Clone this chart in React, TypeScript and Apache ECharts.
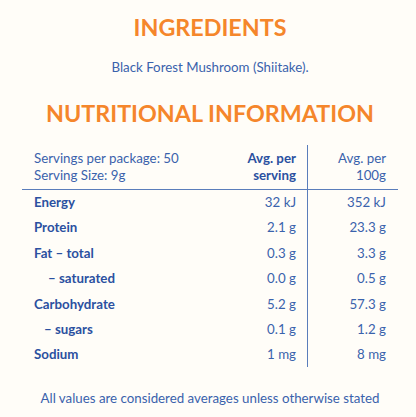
import React, { useEffect, useRef } from "react";
import * as echarts from "echarts";

const titleIngredients = "INGREDIENTS";
const ingredientsText = "Black Forest Mushroom (Shiitake).";
const titleNutrition = "NUTRITIONAL INFORMATION";
const servingInfo = ["Servings per package: 50", "Serving Size: 9g"];
const headerPerServing = ["Avg. per", "serving"];
const headerPer100g = ["Avg. per", "100g"];
const nutrients = ["Energy", "Protein", "Fat – total", "– saturated", "Carbohydrate", "– sugars", "Sodium"];
const indents = [0, 0, 0, 14, 0, 10, 0];
const perServing = ["32 kJ", "2.1 g", "0.3 g", "0.0 g", "5.2 g", "0.1 g", "1 mg"];
const per100g = ["352 kJ", "23.3 g", "3.3 g", "0.5 g", "57.3 g", "1.2 g", "8 mg"];
const footnote = "All values are considered averages unless otherwise stated";

const ORANGE = "#F5862B";
const BLUE = "#3A62AC";
const BLUE_BOLD = "#2B50A0";
const FONT = "Lato, 'Open Sans', sans-serif";
const FS = 13.3;

export default function App() {
  const ref = useRef<HTMLDivElement>(null);
  useEffect(() => {
    document.body.style.margin = "0";
    const chart = echarts.init(ref.current!, null, { renderer: "svg" });
    const els: any[] = [];
    const txt = (text: string, x: number, y: number, opts: any = {}) =>
      els.push({
        type: "text",
        x,
        y,
        style: {
          text,
          fill: opts.fill || BLUE,
          font: `${opts.weight || "normal"} ${opts.size || FS}px ${FONT}`,
          textAlign: opts.align || "left",
          textVerticalAlign: "middle",
        },
      });

    txt(titleIngredients, 210, 27, { fill: ORANGE, weight: "bold", size: 23.3, align: "center" });
    txt(ingredientsText, 210, 67, { align: "center" });
    txt(titleNutrition, 210, 113, { fill: ORANGE, weight: "bold", size: 23.3, align: "center" });

    servingInfo.forEach((s, i) => txt(s, 34, 158 + i * 17));
    headerPerServing.forEach((s, i) =>
      txt(s, 296, 158 + i * 17, { weight: "bold", fill: BLUE_BOLD, align: "right" })
    );
    headerPer100g.forEach((s, i) => txt(s, 386, 158 + i * 17, { align: "right" }));

    nutrients.forEach((n, i) => {
      const y = 202 + i * 25.4;
      txt(n, 34 + indents[i], y, { weight: "bold", fill: BLUE_BOLD });
      txt(perServing[i], 296, y, { align: "right" });
      txt(per100g[i], 386, y, { align: "right" });
    });

    txt(footnote, 210, 398, { align: "center" });

    els.push({
      type: "line",
      shape: { x1: 22, y1: 189.5, x2: 398, y2: 189.5 },
      style: { stroke: "#5A7DBB", lineWidth: 1 },
    });
    els.push({
      type: "line",
      shape: { x1: 307.5, y1: 145, x2: 307.5, y2: 367 },
      style: { stroke: "#5A7DBB", lineWidth: 1 },
    });

    chart.setOption({
      animation: false,
      backgroundColor: "#FFFDF8",
      graphic: { elements: els },
    });
    return () => chart.dispose();
  }, []);
  return (
    <div
      ref={ref}
      style={{ position: "fixed", left: 0, top: 0, width: 416, height: 417 }}
    />
  );
}
